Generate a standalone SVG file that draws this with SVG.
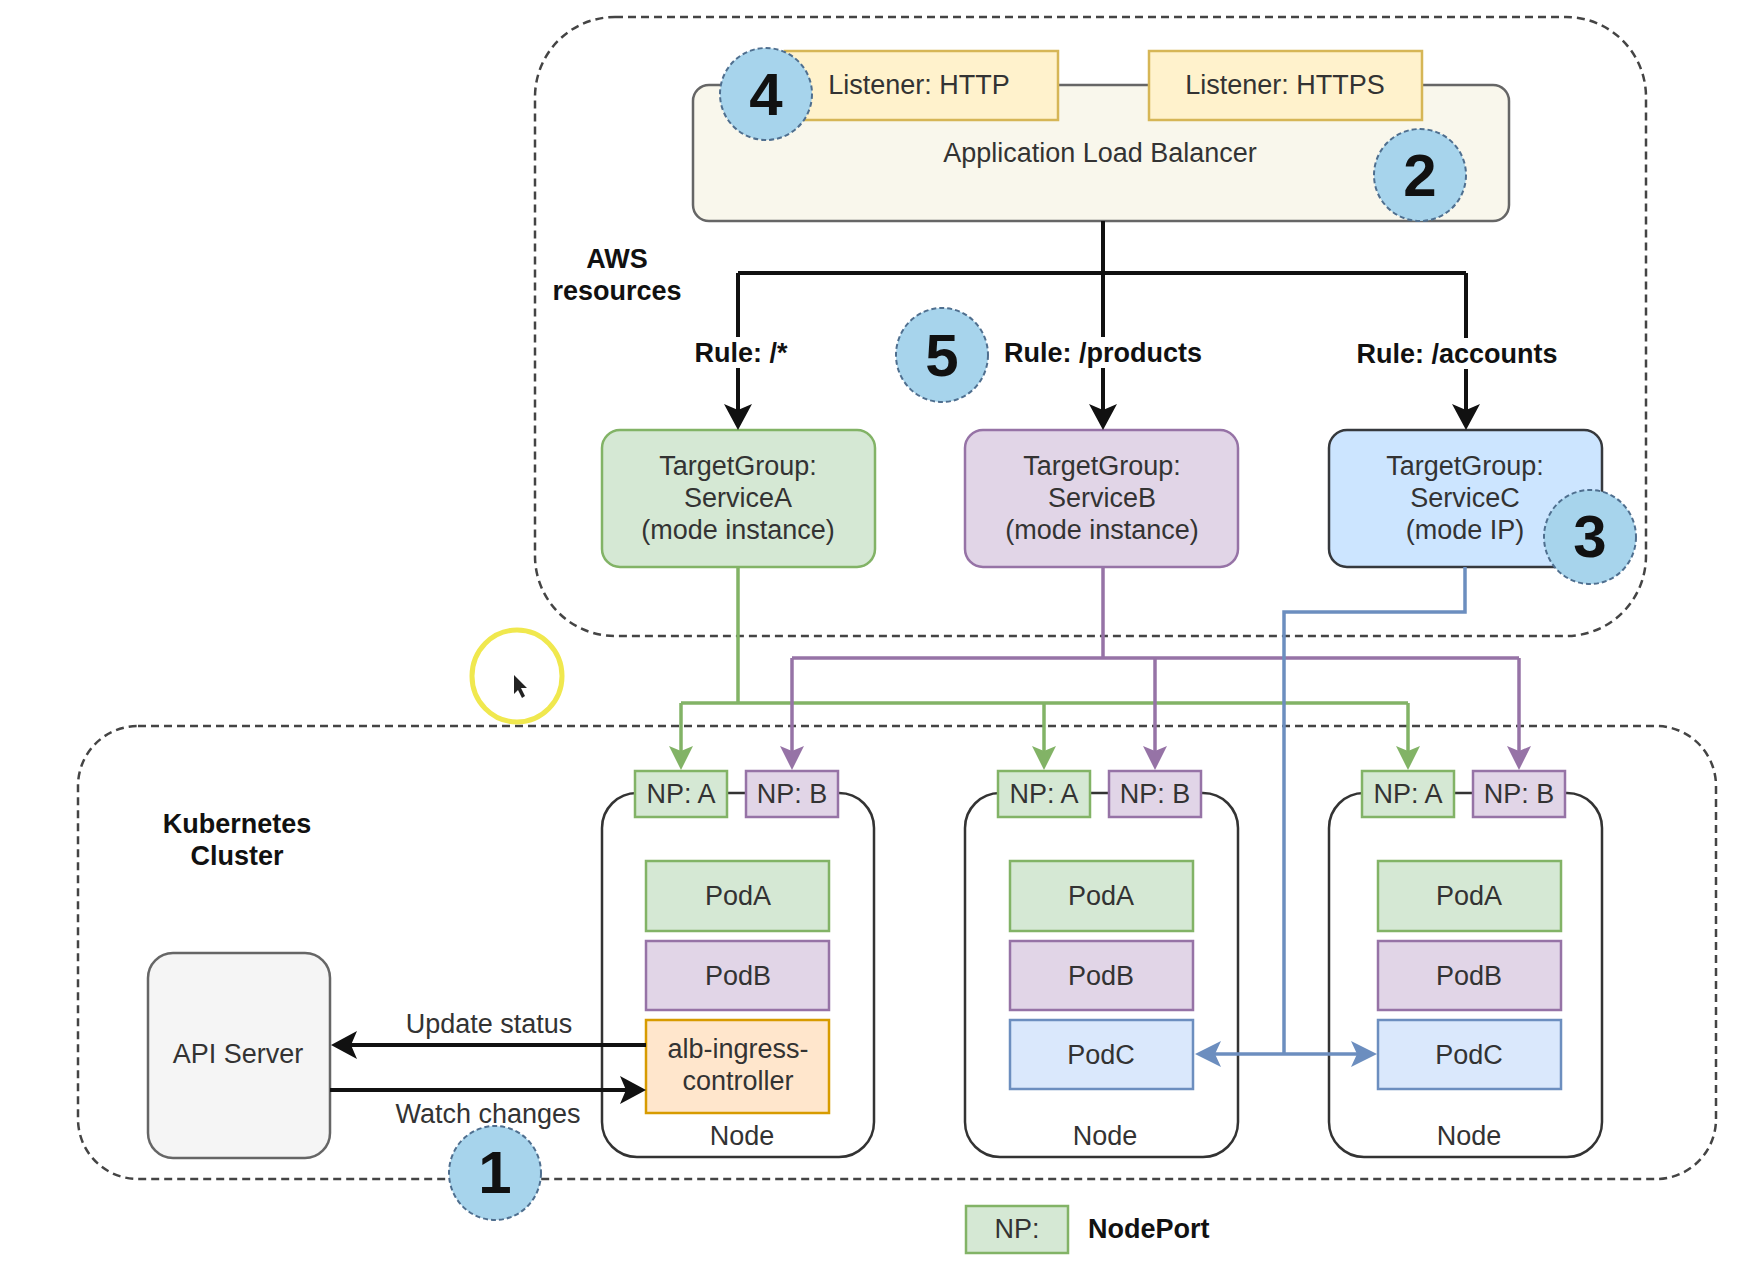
<svg xmlns="http://www.w3.org/2000/svg" width="1756" height="1264" viewBox="0 0 1756 1264">
<style>
text{font-family:"Liberation Sans",Arial,sans-serif;font-size:27px;fill:#333;text-anchor:middle}
.b{font-weight:bold;fill:#111}
.num{font-weight:bold;font-size:60px;fill:#111}
.dash{fill:none;stroke:#444;stroke-width:2.5;stroke-dasharray:8 5}
.green{fill:#d5e8d4;stroke:#82b366;stroke-width:2.5}
.purple{fill:#e1d5e7;stroke:#9673a6;stroke-width:2.5}
.blue{fill:#dae8fc;stroke:#6c8ebf;stroke-width:2.5}
.node{fill:#fff;stroke:#333;stroke-width:2.5}
.listener{fill:#fff2cc;stroke:#d6b656;stroke-width:2.5}
.badge{fill:#a7d4ec;stroke:#4f6f8f;stroke-width:2;stroke-dasharray:5 3}
.cb{fill:none;stroke:#111;stroke-width:4}
.cg{fill:none;stroke:#82b366;stroke-width:3.5}
.cp{fill:none;stroke:#9673a6;stroke-width:3.5}
.cl{fill:none;stroke:#6c8ebf;stroke-width:3.5}
</style>
<defs>
<marker id="ab" markerUnits="userSpaceOnUse" markerWidth="26" markerHeight="28" viewBox="0 0 26 28" refX="18" refY="14" orient="auto"><path d="M0,0 L26,14 L0,28 L6,14 Z" fill="#111"/></marker>
<marker id="ag" markerUnits="userSpaceOnUse" markerWidth="24" markerHeight="24" viewBox="0 0 24 24" refX="16" refY="12" orient="auto"><path d="M0,0 L24,12 L0,24 L5,12 Z" fill="#82b366"/></marker>
<marker id="ap" markerUnits="userSpaceOnUse" markerWidth="24" markerHeight="24" viewBox="0 0 24 24" refX="16" refY="12" orient="auto"><path d="M0,0 L24,12 L0,24 L5,12 Z" fill="#9673a6"/></marker>
<marker id="al" markerUnits="userSpaceOnUse" markerWidth="26" markerHeight="26" viewBox="0 0 26 26" refX="18" refY="13" orient="auto"><path d="M0,0 L26,13 L0,26 L6,13 Z" fill="#6c8ebf"/></marker>
</defs>
<rect width="1756" height="1264" fill="#fff"/>

<g id="aws-resources">
<rect class="dash" x="535" y="17" width="1111" height="619" rx="80"/>
<text class="b" x="617" y="268">AWS</text>
<text class="b" x="617" y="300">resources</text>
</g>

<g id="k8s-cluster">
<rect class="dash" x="78" y="726" width="1638" height="453" rx="60"/>
<text class="b" x="237" y="833">Kubernetes</text>
<text class="b" x="237" y="865">Cluster</text>
</g>

<g id="alb">
<rect x="693" y="85" width="816" height="136" rx="16" fill="#f9f7ec" stroke="#666" stroke-width="2.5"/>
<text x="1100" y="162">Application Load Balancer</text>
</g>
<g id="listener-http">
<rect class="listener" x="785" y="51" width="273" height="69"/>
<text x="919" y="94">Listener: HTTP</text>
</g>
<g id="listener-https">
<rect class="listener" x="1149" y="51" width="273" height="69"/>
<text x="1285" y="94">Listener: HTTPS</text>
</g>

<g id="tg-a">
<rect class="green" x="602" y="430" width="273" height="137" rx="18"/>
<text x="738" y="475">TargetGroup:</text>
<text x="738" y="507">ServiceA</text>
<text x="738" y="539">(mode instance)</text>
</g>
<g id="tg-b">
<rect class="purple" x="965" y="430" width="273" height="137" rx="18"/>
<text x="1102" y="475">TargetGroup:</text>
<text x="1102" y="507">ServiceB</text>
<text x="1102" y="539">(mode instance)</text>
</g>
<g id="tg-c">
<rect x="1329" y="430" width="273" height="137" rx="18" fill="#cce5ff" stroke="#36393d" stroke-width="2.5"/>
<text x="1465" y="475">TargetGroup:</text>
<text x="1465" y="507">ServiceC</text>
<text x="1465" y="539">(mode IP)</text>
</g>

<g id="api-server">
<rect x="148" y="953" width="182" height="205" rx="25" fill="#f5f5f5" stroke="#666" stroke-width="2.5"/>
<text x="238" y="1063">API Server</text>
</g>

<g id="node-1">
<rect class="node" x="602" y="793" width="272" height="364" rx="35"/>
<rect class="green" x="635" y="771" width="92" height="46"/>
<text x="681" y="803">NP: A</text>
<rect class="purple" x="746" y="771" width="92" height="46"/>
<text x="792" y="803">NP: B</text>
<rect class="green" x="646" y="861" width="183" height="70"/>
<text x="738" y="905">PodA</text>
<rect class="purple" x="646" y="941" width="183" height="69"/>
<text x="738" y="985">PodB</text>
<rect x="646" y="1020" width="183" height="93" fill="#ffe6cc" stroke="#d79b00" stroke-width="2.5"/>
<text x="738" y="1058">alb-ingress-</text>
<text x="738" y="1090">controller</text>
<text x="742" y="1145">Node</text>
</g>

<g id="node-2">
<rect class="node" x="965" y="793" width="273" height="364" rx="35"/>
<rect class="green" x="998" y="771" width="92" height="46"/>
<text x="1044" y="803">NP: A</text>
<rect class="purple" x="1109" y="771" width="92" height="46"/>
<text x="1155" y="803">NP: B</text>
<rect class="green" x="1010" y="861" width="183" height="70"/>
<text x="1101" y="905">PodA</text>
<rect class="purple" x="1010" y="941" width="183" height="69"/>
<text x="1101" y="985">PodB</text>
<rect class="blue" x="1010" y="1020" width="183" height="69"/>
<text x="1101" y="1064">PodC</text>
<text x="1105" y="1145">Node</text>
</g>

<g id="node-3">
<rect class="node" x="1329" y="793" width="273" height="364" rx="35"/>
<rect class="green" x="1362" y="771" width="92" height="46"/>
<text x="1408" y="803">NP: A</text>
<rect class="purple" x="1473" y="771" width="92" height="46"/>
<text x="1519" y="803">NP: B</text>
<rect class="green" x="1378" y="861" width="183" height="70"/>
<text x="1469" y="905">PodA</text>
<rect class="purple" x="1378" y="941" width="183" height="69"/>
<text x="1469" y="985">PodB</text>
<rect class="blue" x="1378" y="1020" width="183" height="69"/>
<text x="1469" y="1064">PodC</text>
<text x="1469" y="1145">Node</text>
</g>

<g id="connectors">
<path class="cb" d="M1103,221 V273 M738,273 H1466"/>
<path class="cb" d="M738,273 V422" marker-end="url(#ab)"/>
<path class="cb" d="M1103,273 V422" marker-end="url(#ab)"/>
<path class="cb" d="M1466,273 V422" marker-end="url(#ab)"/>
<rect x="692" y="337" width="96" height="31" fill="#fff"/>
<text class="b" x="741" y="362">Rule: /*</text>
<rect x="1003" y="337" width="201" height="31" fill="#fff"/>
<text class="b" x="1103" y="362">Rule: /products</text>
<rect x="1354" y="338" width="206" height="31" fill="#fff"/>
<text class="b" x="1457" y="363">Rule: /accounts</text>

<path class="cg" d="M738,567 V703 M681,703 H1408"/>
<path class="cg" d="M681,703 V762" marker-end="url(#ag)"/>
<path class="cg" d="M1044,703 V762" marker-end="url(#ag)"/>
<path class="cg" d="M1408,703 V762" marker-end="url(#ag)"/>

<path class="cp" d="M1103,567 V658 M792,658 H1519"/>
<path class="cp" d="M792,658 V762" marker-end="url(#ap)"/>
<path class="cp" d="M1155,658 V762" marker-end="url(#ap)"/>
<path class="cp" d="M1519,658 V762" marker-end="url(#ap)"/>

<path class="cl" d="M1465,567 V612 H1284 V1054"/>
<path class="cl" d="M1284,1054 H1203" marker-end="url(#al)"/>
<path class="cl" d="M1284,1054 H1369" marker-end="url(#al)"/>

<path class="cb" d="M646,1045 H339" marker-end="url(#ab)"/>
<path class="cb" d="M330,1090 H638" marker-end="url(#ab)"/>
<text x="489" y="1033">Update status</text>
<text x="488" y="1123">Watch changes</text>
</g>

<g id="badges">
<ellipse class="badge" cx="766" cy="94" rx="46" ry="46"/>
<text class="num" x="766" y="115">4</text>
<ellipse class="badge" cx="1420" cy="175" rx="46" ry="46"/>
<text class="num" x="1420" y="196">2</text>
<ellipse class="badge" cx="942" cy="355" rx="46" ry="47"/>
<text class="num" x="942" y="376">5</text>
<ellipse class="badge" cx="1590" cy="537" rx="46" ry="47"/>
<text class="num" x="1590" y="557">3</text>
<ellipse class="badge" cx="495" cy="1173" rx="46" ry="47"/>
<text class="num" x="495" y="1193">1</text>
</g>

<g id="legend">
<rect class="green" x="966" y="1206" width="102" height="47"/>
<text x="1017" y="1238">NP:</text>
<text class="b" x="1088" y="1238" style="text-anchor:start">NodePort</text>
</g>

<g id="cursor">
<ellipse cx="517" cy="676" rx="45" ry="46" fill="none" stroke="#f0e84e" stroke-width="5"/>
<path d="M514,675 L514,694 L518,690 L522,698 L525,696 L521,688 L527,688 Z" fill="#222"/>
</g>
</svg>
